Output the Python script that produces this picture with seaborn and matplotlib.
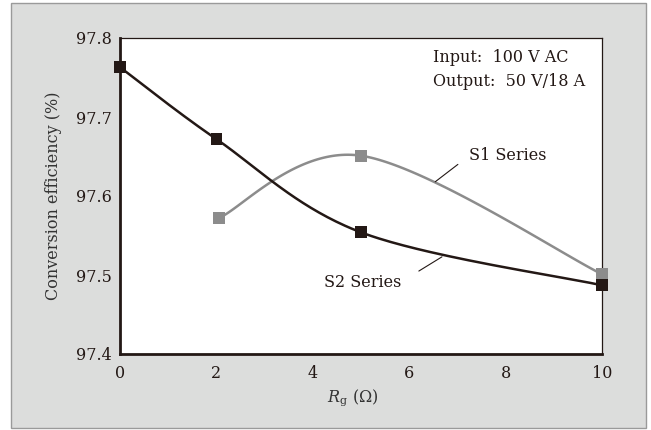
import numpy as np
import pandas as pd
import matplotlib
matplotlib.use("Agg")
import matplotlib.pyplot as plt
import seaborn as sns
from matplotlib.patches import Rectangle

# ---- data ----
s1_x = [2.05, 5, 10]
s1_y = [97.572, 97.651, 97.501]
s2_x = [0, 2, 5, 10]
s2_y = [97.763, 97.672, 97.554, 97.487]
x_ticks = [0, 2, 4, 6, 8, 10]
y_ticks = [97.4, 97.5, 97.6, 97.7, 97.8]
series_labels = ["S1 Series", "S2 Series"]
note_lines = ["Input:  100 V AC", "Output:  50 V/18 A"]


def smooth_display(ax, x, y, n=60):
    """Spreadsheet-style smoothed line (Bezier through points, computed in display space)."""
    P = ax.transData.transform(np.column_stack([x, y]))
    k = len(P)
    ext = np.vstack([P[0], P, P[-1]])
    out = []
    for i in range(k - 1):
        p0, p1 = ext[i + 1], ext[i + 2]
        c1 = p0 + (ext[i + 2] - ext[i]) / 6.0
        c2 = p1 - (ext[i + 3] - ext[i + 1]) / 6.0
        t = np.linspace(0, 1, n)[:, None]
        seg = ((1 - t) ** 3) * p0 + 3 * ((1 - t) ** 2) * t * c1 + 3 * (1 - t) * t ** 2 * c2 + t ** 3 * p1
        out.append(seg if i == 0 else seg[1:])
    D = ax.transData.inverted().transform(np.vstack(out))
    return D[:, 0], D[:, 1]


sns.set_theme(style="white")
plt.rcParams["font.family"] = ["DejaVu Serif"]
plt.rcParams["mathtext.fontset"] = "dejavuserif"

BG = "#dcdddc"
BLACK = "#231815"
GRAY = "#8c8c8c"
TXT = "#231815"

fig = plt.figure(figsize=(6.51, 4.30), dpi=100, facecolor="white")
bg = Rectangle((11 / 651, 1 - 428 / 430), (646 - 11) / 651, (428 - 3) / 430,
               transform=fig.transFigure, facecolor=BG, edgecolor="#9a9a9a",
               linewidth=1.0, zorder=-10)
fig.add_artist(bg)
ax = fig.add_axes([120 / 651, 1 - 354 / 430, (602 - 120) / 651, (354 - 38) / 430])
ax.set_zorder(5)
ax.set_facecolor("white")
ax.set_xlim(0, 10)
ax.set_ylim(97.4, 97.8)

x1, y1 = smooth_display(ax, s1_x, s1_y)
x2, y2 = smooth_display(ax, s2_x, s2_y)
sns.lineplot(x=x1, y=y1, ax=ax, color=GRAY, linewidth=1.8, sort=False)
sns.lineplot(x=x2, y=y2, ax=ax, color=BLACK, linewidth=1.8, sort=False)
sns.scatterplot(x=s1_x, y=s1_y, ax=ax, marker="s", s=72, color=GRAY, edgecolor="none",
                clip_on=False, zorder=5)
sns.scatterplot(x=s2_x, y=s2_y, ax=ax, marker="s", s=72, color=BLACK, edgecolor="none",
                clip_on=False, zorder=6)

ax.set_xlim(0, 10)
ax.set_ylim(97.4, 97.8)
ax.set_xticks(x_ticks)
ax.set_xticklabels([str(v) for v in x_ticks])
ax.set_yticks(y_ticks)
ax.set_yticklabels([f"{v:.1f}" for v in y_ticks])
ax.tick_params(direction="in", length=6, width=1, colors=BLACK, labelsize=11.5,
               labelcolor=TXT, pad=8)
ax.tick_params(axis="y", pad=6)
for s in ["left", "bottom"]:
    ax.spines[s].set_linewidth(2.0)
    ax.spines[s].set_color(BLACK)
for s in ["top", "right"]:
    ax.spines[s].set_linewidth(0.9)
    ax.spines[s].set_color(BLACK)

ax.set_ylabel("Conversion efficiency (%)", fontsize=11.5, color="#333333", labelpad=10)
ax.set_xlabel(r"$R_{\mathrm{g}}$ ($\Omega$)", fontsize=11.5, color="#333333")
ax.xaxis.label.set_va("center")
ax.xaxis.set_label_coords(0.483, -0.139)

ax.text(0.649, 0.937, note_lines[0], transform=ax.transAxes, fontsize=11.5, color=TXT,
        ha="left", va="center")
ax.text(0.649, 0.861, note_lines[1], transform=ax.transAxes, fontsize=11.5, color=TXT,
        ha="left", va="center")

ax.text(7.24, 97.651, series_labels[0], fontsize=11.5, color=TXT, ha="left", va="center")
ax.text(4.23, 97.49, series_labels[1], fontsize=11.5, color=TXT, ha="left", va="center")
ax.annotate("", xy=(6.54, 97.618), xytext=(7.01, 97.640),
            arrowprops=dict(arrowstyle="-", color=BLACK, lw=0.8, shrinkA=0, shrinkB=0))
ax.annotate("", xy=(6.68, 97.523), xytext=(6.20, 97.505),
            arrowprops=dict(arrowstyle="-", color=BLACK, lw=0.8, shrinkA=0, shrinkB=0))

fig.savefig("out.png", dpi=100, facecolor="white")
